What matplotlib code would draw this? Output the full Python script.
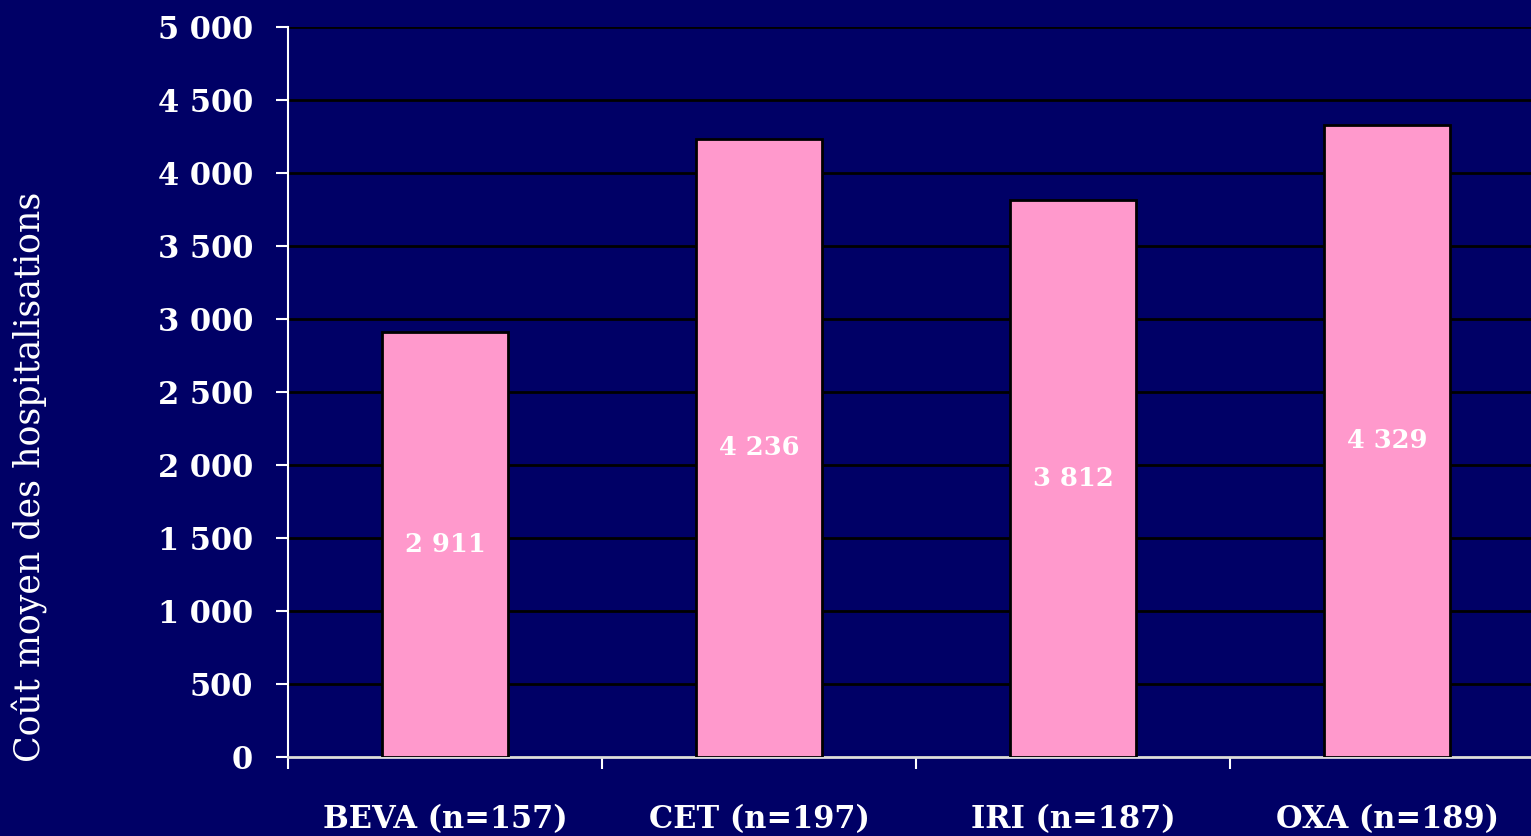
import matplotlib.pyplot as plt

categories = ["BEVA (n=157)", "CET (n=197)", "IRI (n=187)", "OXA (n=189)"]
costs = [2911, 4236, 3812, 4329]
yticks = [0, 500, 1000, 1500, 2000, 2500, 3000, 3500, 4000, 4500, 5000]

bg = "#000066"
pink = "#FF99CC"

plt.rcParams['font.family'] = ['DejaVu Serif']

fig = plt.figure(figsize=(15.31, 8.36), dpi=100, facecolor=bg)
# axes run a bit past the right edge, like the original slide
ax = fig.add_axes([0.1881, 0.0945, 0.8204, 0.8732], facecolor=bg)

x = list(range(len(categories)))
ax.bar(x, costs, width=0.4, color=pink, edgecolor="black", linewidth=2, zorder=3)

for xi, v in zip(x, costs):
    s = "{:,}".format(v).replace(",", " ")
    ax.text(xi, v / 2, s, ha="center", va="center", color="white",
            fontsize=18.5, fontweight="bold", zorder=4)

ax.set_xlim(-0.5, len(categories) - 0.5)
ax.set_ylim(0, 5000)
ax.set_yticks(yticks)
ax.set_yticklabels(["{:,}".format(t).replace(",", " ") for t in yticks],
                   fontsize=22, fontweight="bold", color="white")
ax.set_xticks(x)
ax.set_xticklabels(categories, fontsize=22, fontweight="bold", color="white")
ax.tick_params(axis="x", length=0, pad=34)
ax.set_xticks([i + 0.5 for i in range(-1, len(categories) - 1)], minor=True)
ax.tick_params(axis="x", which="minor", length=8.6, width=1.5, color="white", direction="out")
ax.tick_params(axis="y", length=8.6, width=1.5, color="white", pad=16.5)

ax.grid(axis="y", color="black", linewidth=2, zorder=0)
ax.set_axisbelow(True)
for side in ["top", "right"]:
    ax.spines[side].set_visible(False)
ax.spines["left"].set_color("white")
ax.spines["left"].set_linewidth(1.5)
ax.spines["bottom"].set_color("#dddddd")
ax.spines["bottom"].set_linewidth(2)

fig.text(0.0196, 0.4294, "Coût moyen des hospitalisations", rotation=90,
         ha="center", va="center", color="white", fontsize=25)

fig.savefig("out.png", dpi=100, facecolor=bg)
